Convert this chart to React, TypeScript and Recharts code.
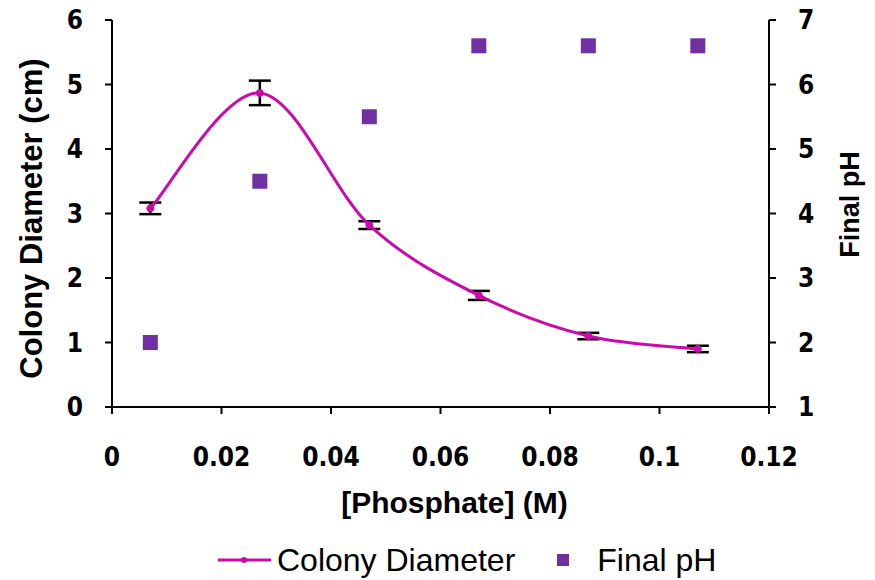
import { ComposedChart, Line, Scatter, XAxis, YAxis, ErrorBar, Legend } from "recharts";

// phosphate concentration (M)
const phosphate = [0.007, 0.027, 0.047, 0.067, 0.087, 0.107];
// colony diameter (cm) with error
const diameter = [3.08, 4.87, 2.82, 1.73, 1.1, 0.9];
const diameterErr = [0.09, 0.19, 0.06, 0.07, 0.05, 0.05];
// final pH
const finalPh = [2.0, 4.5, 5.5, 6.6, 6.6, 6.6];

const xTicks = [0, 0.02, 0.04, 0.06, 0.08, 0.1, 0.12];
const leftTicks = [0, 1, 2, 3, 4, 5, 6];
const rightTicks = [1, 2, 3, 4, 5, 6, 7];

const data = phosphate.map((x, i) => ({
    x,
    diam: diameter[i],
    err: diameterErr[i],
    ph: finalPh[i],
}));

const LINE_COLOR = "#CC0AAA";
const SQUARE_COLOR = "#7030A0";
const FONT = "'Liberation Sans', Arial, sans-serif";
const NARROW = "'Liberation Sans Narrow', 'Arial Narrow', 'DejaVu Sans Condensed', sans-serif";

// Excel-like smoothed line (uniform Catmull-Rom as cubic beziers)
const smoothCurve = (context: any) => {
    let pts: [number, number][] = [];
    return {
        areaStart() {},
        areaEnd() {},
        lineStart() {
            pts = [];
        },
        lineEnd() {
            if (!pts.length) return;
            context.moveTo(pts[0][0], pts[0][1]);
            for (let i = 0; i < pts.length - 1; i++) {
                const p0 = pts[i - 1] || pts[i];
                const p1 = pts[i];
                const p2 = pts[i + 1];
                const p3 = pts[i + 2] || p2;
                context.bezierCurveTo(
                    p1[0] + (p2[0] - p0[0]) / 6,
                    p1[1] + (p2[1] - p0[1]) / 6,
                    p2[0] - (p3[0] - p1[0]) / 6,
                    p2[1] - (p3[1] - p1[1]) / 6,
                    p2[0],
                    p2[1]
                );
            }
        },
        point(x: number, y: number) {
            pts.push([x, y]);
        },
    };
};

const tickStyle = { fill: "#000", fontSize: 26, fontWeight: 700, fontFamily: NARROW };
const axisLine = { stroke: "#000", strokeWidth: 2 };

const SquareShape = (props: any) => {
    const { cx, cy } = props;
    if (cx == null || cy == null) return null;
    return <rect x={cx - 7.5} y={cy - 7.5} width={15} height={15} fill={SQUARE_COLOR} />;
};

const LegendContent = () => (
    <div
        style={{
            display: "flex",
            alignItems: "center",
            height: 40,
            paddingLeft: 218,
            fontFamily: FONT,
            fontSize: 32,
            color: "#000",
        }}
    >
        <svg width={53} height={10} style={{ marginRight: 6 }}>
            <line x1={0} y1={5} x2={53} y2={5} stroke={LINE_COLOR} strokeWidth={3} />
            <circle cx={26} cy={5} r={3} fill={LINE_COLOR} />
        </svg>
        <span>Colony Diameter</span>
        <svg width={12} height={12} style={{ marginLeft: 42, marginRight: 28 }}>
            <rect x={0} y={0} width={12} height={12} fill={SQUARE_COLOR} />
        </svg>
        <span>Final pH</span>
    </div>
);

export default function App() {
    return (
        <div style={{ position: "absolute", left: 0, top: 0, width: 875, height: 580, background: "#fff" }}>
            <ComposedChart width={875} height={580} data={data} margin={{ top: 20, right: 0, bottom: 0, left: 0 }}>
                <XAxis
                    dataKey="x"
                    type="number"
                    domain={[0, 0.12]}
                    ticks={xTicks}
                    tickFormatter={(v: number) => String(v)}
                    axisLine={axisLine}
                    tickLine={axisLine}
                    tickSize={7}
                    tickMargin={34}
                    tick={tickStyle}
                    height={133}
                    interval={0}
                    label={{
                        value: "[Phosphate] (M)",
                        position: "insideBottom",
                        offset: 27,
                        dx: 14,
                        fill: "#000",
                        fontSize: 30,
                        fontWeight: 700,
                        fontFamily: FONT,
                    }}
                />
                <YAxis
                    yAxisId="left"
                    domain={[0, 6]}
                    ticks={leftTicks}
                    axisLine={axisLine}
                    tickLine={axisLine}
                    tickSize={7}
                    tickMargin={22}
                    tick={tickStyle}
                    width={112}
                    interval={0}
                    label={{
                        content: (p: any) => {
                            const vb = p.viewBox;
                            const cx = vb.x + 31;
                            const cy = vb.y + vb.height / 2 + 5;
                            return (
                                <text
                                    x={cx}
                                    y={cy}
                                    transform={`rotate(-90 ${cx} ${cy})`}
                                    textAnchor="middle"
                                    dominantBaseline="central"
                                    fill="#000"
                                    fontSize={31}
                                    fontWeight={700}
                                    fontFamily={FONT}
                                >
                                    Colony Diameter (cm)
                                </text>
                            );
                        },
                    }}
                />
                <YAxis
                    yAxisId="right"
                    orientation="right"
                    domain={[1, 7]}
                    ticks={rightTicks}
                    axisLine={axisLine}
                    tickLine={axisLine}
                    tickSize={7}
                    tickMargin={22}
                    tick={tickStyle}
                    width={106}
                    interval={0}
                    label={{
                        content: (p: any) => {
                            const vb = p.viewBox;
                            const cx = vb.x + 81;
                            const cy = vb.y + vb.height / 2 - 9;
                            return (
                                <text
                                    x={cx}
                                    y={cy}
                                    transform={`rotate(-90 ${cx} ${cy})`}
                                    textAnchor="middle"
                                    dominantBaseline="central"
                                    fill="#000"
                                    fontSize={27}
                                    fontWeight={700}
                                    fontFamily={FONT}
                                >
                                    Final pH
                                </text>
                            );
                        },
                    }}
                />
                <Legend
                    verticalAlign="bottom"
                    height={40}
                    content={<LegendContent />}
                    wrapperStyle={{ left: 0, bottom: 0, width: 875 }}
                />
                <Line
                    yAxisId="left"
                    dataKey="diam"
                    name="Colony Diameter"
                    type={smoothCurve as any}
                    stroke={LINE_COLOR}
                    strokeWidth={3}
                    dot={{ r: 3.5, fill: LINE_COLOR, stroke: LINE_COLOR, strokeWidth: 1 }}
                    activeDot={false}
                    isAnimationActive={false}
                >
                    <ErrorBar dataKey="err" width={11} stroke="#000" strokeWidth={2.5} direction="y" />
                </Line>
                <Scatter
                    yAxisId="right"
                    dataKey="ph"
                    name="Final pH"
                    fill={SQUARE_COLOR}
                    shape={<SquareShape />}
                    isAnimationActive={false}
                />
            </ComposedChart>
        </div>
    );
}
